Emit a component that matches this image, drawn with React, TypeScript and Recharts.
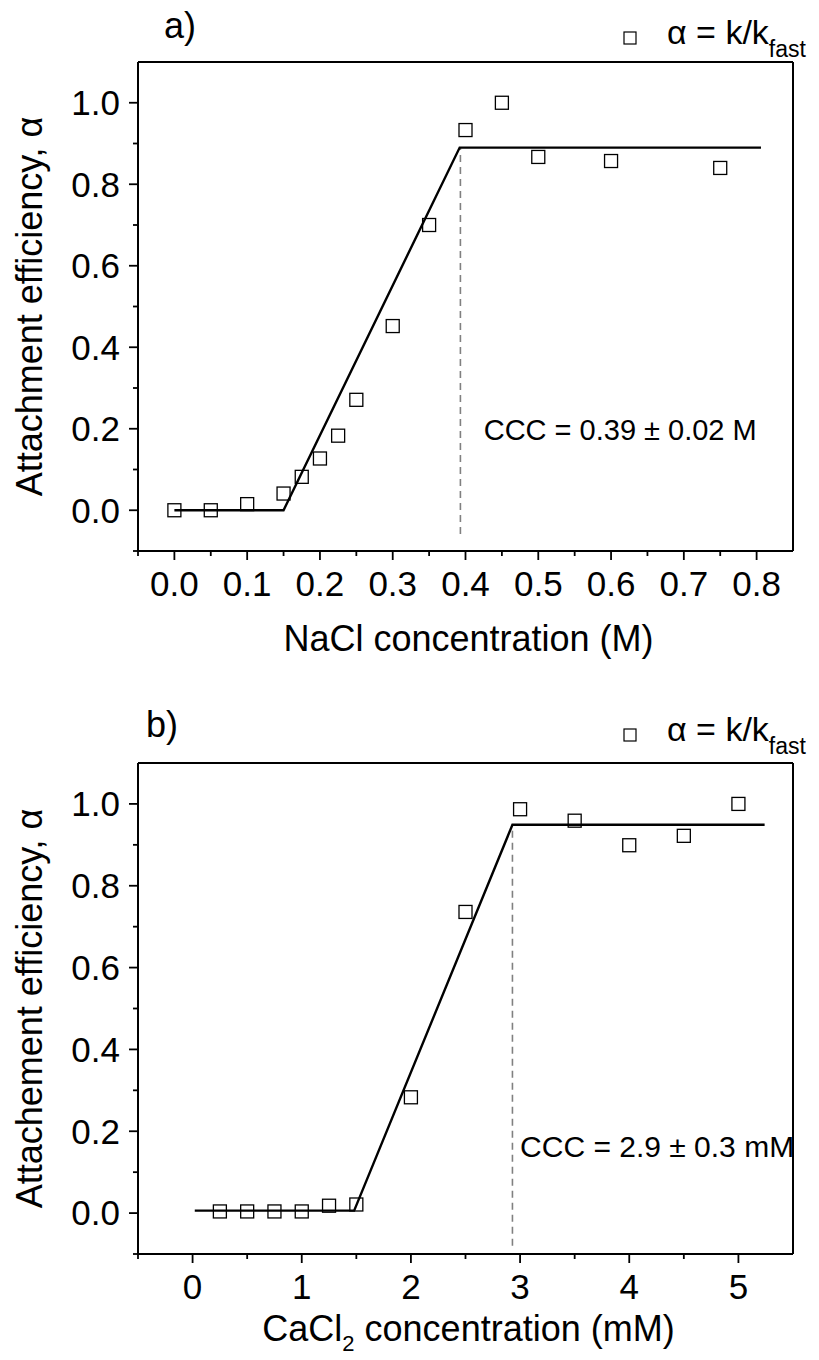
import React from 'react';
import { ComposedChart, Scatter, Line, XAxis, YAxis, ReferenceLine, ReferenceDot, Legend } from 'recharts';

const FONT = '"Liberation Sans", Arial, Helvetica, sans-serif';

// ---------- Panel a: NaCl ----------
const naclConc = [0, 0.05, 0.1, 0.15, 0.175, 0.2, 0.225, 0.25, 0.3, 0.35, 0.4, 0.45, 0.5, 0.6, 0.75];
const naclAlpha = [0.0, 0.0, 0.015, 0.041, 0.082, 0.127, 0.183, 0.271, 0.452, 0.70, 0.933, 1.0, 0.867, 0.857, 0.84];
const naclFitConc = [0, 0.15, 0.392, 0.806];
const naclFitAlpha = [0, 0, 0.89, 0.89];
const naclCcc = 0.393;
const naclCccSpan = [-0.058, 0.89];
const naclCccText = 'CCC = 0.39 ± 0.02 M';
const naclCccTextAt = [0.425, 0.197];
const naclXDomain = [-0.05, 0.85];
const naclXMajor = [0, 0.1, 0.2, 0.3, 0.4, 0.5, 0.6, 0.7, 0.8];
const naclXMinor = [-0.05, 0.05, 0.15, 0.25, 0.35, 0.45, 0.55, 0.65, 0.75];

// ---------- Panel b: CaCl2 ----------
const caclConc = [0.25, 0.5, 0.75, 1.0, 1.25, 1.5, 2.0, 2.5, 3.0, 3.5, 4.0, 4.5, 5.0];
const caclAlpha = [0.004, 0.004, 0.004, 0.004, 0.018, 0.021, 0.283, 0.736, 0.987, 0.959, 0.899, 0.922, 1.0];
const caclFitConc = [0.02, 1.48, 2.93, 5.24];
const caclFitAlpha = [0.006, 0.006, 0.949, 0.949];
const caclCcc = 2.93;
const caclCccSpan = [-0.08, 0.949];
const caclCccText = 'CCC = 2.9 ± 0.3 mM';
const caclCccTextAt = [3.0, 0.163];
const caclXDomain = [-0.5, 5.5];
const caclXMajor = [0, 1, 2, 3, 4, 5];
const caclXMinor = [-0.5, 0.5, 1.5, 2.5, 3.5, 4.5];

// ---------- shared y axis ----------
const alphaDomain = [-0.1, 1.1];
const alphaMajor = [0, 0.2, 0.4, 0.6, 0.8, 1.0];
const alphaMinor = [-0.1, 0.1, 0.3, 0.5, 0.7, 0.9];

const W = 819;
const H = 680;
const PLOT_LEFT = 138;
const PLOT_RIGHT = 793;
const TICK_FS = 35;

const isIn = (arr: number[], v: number) => arr.some((m) => Math.abs(m - v) < 1e-9);

const makeXTick = (majors: number[], fmt: (v: number) => string) => (props: any) => {
  const { x, y, payload } = props;
  const v = payload.value;
  const major = isIn(majors, v);
  return (
    <g>
      <line x1={x} y1={y} x2={x} y2={y + (major ? 9 : 5)} stroke="#000" strokeWidth={1.8} />
      {major && (
        <text x={x} y={y + 33} textAnchor="middle" dy="0.35em" fontSize={TICK_FS} fontFamily={FONT} fill="#000">
          {fmt(v)}
        </text>
      )}
    </g>
  );
};

const makeYTick = (majors: number[]) => (props: any) => {
  const { x, y, payload } = props;
  const v = payload.value;
  const major = isIn(majors, v);
  return (
    <g>
      <line x1={x} y1={y} x2={x - (major ? 9 : 5)} y2={y} stroke="#000" strokeWidth={1.8} />
      {major && (
        <text x={x - 18} y={y} textAnchor="end" dy="0.35em" fontSize={TICK_FS} fontFamily={FONT} fill="#000">
          {v.toFixed(1)}
        </text>
      )}
    </g>
  );
};

const squareShape = (props: any) => {
  const { cx, cy } = props;
  return <rect x={cx - 6.5} y={cy - 6.5} width={13} height={13} fill="none" stroke="#000" strokeWidth={1.3} />;
};

const LegendBox = ({ sq }: { sq: number }) => (
  <div style={{ position: 'relative', width: 204, height: 90, fontFamily: FONT, color: '#000' }}>
    <svg style={{ position: 'absolute', left: 8, top: sq - 7 }} width={15} height={15}>
      <rect x={1} y={1} width={12} height={12} fill="none" stroke="#000" strokeWidth={1.2} />
    </svg>
    <span style={{ position: 'absolute', left: 52, top: sq - 23, fontSize: 34, lineHeight: 1, whiteSpace: 'nowrap' }}>
      α = k/k
      <span style={{ fontSize: 23, position: 'relative', top: 13 }}>fast</span>
    </span>
  </div>
);

type PanelProps = {
  conc: number[];
  alpha: number[];
  fitConc: number[];
  fitAlpha: number[];
  ccc: number;
  cccSpan: number[];
  cccText: string;
  cccTextAt: number[];
  cccFs: number;
  xDomain: number[];
  xMajor: number[];
  xMinor: number[];
  xFmt: (v: number) => string;
  plotTop: number;
  plotBottom: number;
  titleOffset: number;
  letter: string;
  letterX: number;
  letterBaseline: number;
  yLabel: string;
  xTitle: React.ReactNode;
  legendSq: number;
  top: number;
};

const Panel = (p: PanelProps) => {
  const points = p.conc.map((c, i) => ({ x: c, y: p.alpha[i] }));
  const fit = p.fitConc.map((c, i) => ({ x: c, y: p.fitAlpha[i] }));
  const xTicks = [...p.xMajor, ...p.xMinor].sort((a, b) => a - b);
  const yTicks = [...alphaMajor, ...alphaMinor].sort((a, b) => a - b);
  const plotMidY = (p.plotTop + p.plotBottom) / 2;
  const plotMidX = (PLOT_LEFT + PLOT_RIGHT) / 2 + 3;
  return (
    <div style={{ position: 'absolute', left: 0, top: p.top, width: W, height: H }}>
      <ComposedChart
        width={W}
        height={H}
        margin={{ top: p.plotTop, right: W - PLOT_RIGHT, bottom: 0, left: 0 }}
      >
        <XAxis
          type="number"
          dataKey="x"
          domain={p.xDomain}
          allowDataOverflow
          ticks={xTicks}
          interval={0}
          height={H - p.plotBottom}
          tickSize={0}
          tickMargin={0}
          tickLine={false}
          axisLine={{ stroke: '#000', strokeWidth: 2 }}
          tick={makeXTick(p.xMajor, p.xFmt)}
          label={{
            content: () => (
              <text x={plotMidX} y={p.plotBottom + p.titleOffset} textAnchor="middle" dy="0.35em" fontSize={36} fontFamily={FONT} fill="#000">
                {p.xTitle}
              </text>
            ),
          }}
        />
        <YAxis
          type="number"
          dataKey="y"
          domain={alphaDomain}
          allowDataOverflow
          ticks={yTicks}
          interval={0}
          width={PLOT_LEFT}
          tickSize={0}
          tickMargin={0}
          tickLine={false}
          axisLine={{ stroke: '#000', strokeWidth: 2 }}
          tick={makeYTick(alphaMajor)}
          label={{
            content: () => (
              <g>
                <text
                  x={29}
                  y={plotMidY}
                  transform={`rotate(-90, 29, ${plotMidY})`}
                  textAnchor="middle"
                  dy="0.35em"
                  fontSize={36}
                  fontFamily={FONT}
                  fill="#000"
                >
                  {p.yLabel}
                </text>
                <text x={p.letterX} y={p.letterBaseline} fontSize={36} fontFamily={FONT} fill="#000">
                  {p.letter}
                </text>
              </g>
            ),
          }}
        />
        <ReferenceLine y={alphaDomain[1]} stroke="#000" strokeWidth={2} ifOverflow="visible" />
        <ReferenceLine x={p.xDomain[1]} stroke="#000" strokeWidth={2} ifOverflow="visible" />
        <ReferenceLine
          segment={[
            { x: p.ccc, y: p.cccSpan[0] },
            { x: p.ccc, y: p.cccSpan[1] },
          ]}
          stroke="#808080"
          strokeWidth={1.6}
          strokeDasharray="7 5"
          ifOverflow="visible"
        />
        <Line
          data={fit}
          dataKey="y"
          type="linear"
          stroke="#000"
          strokeWidth={2.4}
          dot={false}
          activeDot={false}
          isAnimationActive={false}
          legendType="none"
        />
        <Scatter data={points} dataKey="y" shape={squareShape} isAnimationActive={false} name="α = k/k_fast" />
        <ReferenceDot
          x={p.cccTextAt[0]}
          y={p.cccTextAt[1]}
          r={0}
          fill="none"
          stroke="none"
          label={{
            content: (lp: any) => {
              const vb = lp.viewBox || {};
              const x = (vb.x ?? 0) + (vb.width ?? 0) / 2;
              const y = (vb.y ?? 0) + (vb.height ?? 0) / 2;
              return (
                <text x={x} y={y} dy="0.35em" fontSize={p.cccFs} fontFamily={FONT} fill="#000">
                  {p.cccText}
                </text>
              );
            },
          }}
        />
        <Legend
          layout="horizontal"
          verticalAlign="middle"
          align="center"
          wrapperStyle={{ position: 'absolute', left: 615, top: 0, width: 204, height: 90 }}
          content={() => <LegendBox sq={p.legendSq} />}
        />
      </ComposedChart>
    </div>
  );
};

export default function App() {
  return (
    <div style={{ position: 'absolute', left: 0, top: 0, width: W, height: 1360, background: '#fff', fontFamily: FONT }}>
      <Panel
        conc={naclConc}
        alpha={naclAlpha}
        fitConc={naclFitConc}
        fitAlpha={naclFitAlpha}
        ccc={naclCcc}
        cccSpan={naclCccSpan}
        cccText={naclCccText}
        cccTextAt={naclCccTextAt}
        cccFs={29}
        xDomain={naclXDomain}
        xMajor={naclXMajor}
        xMinor={naclXMinor}
        xFmt={(v) => v.toFixed(1)}
        plotTop={62}
        plotBottom={551}
        titleOffset={87}
        letter="a)"
        letterX={164}
        letterBaseline={38}
        yLabel="Attachment efficiency, α"
        xTitle="NaCl concentration (M)"
        legendSq={38}
        top={0}
      />
      <Panel
        conc={caclConc}
        alpha={caclAlpha}
        fitConc={caclFitConc}
        fitAlpha={caclFitAlpha}
        ccc={caclCcc}
        cccSpan={caclCccSpan}
        cccText={caclCccText}
        cccTextAt={caclCccTextAt}
        cccFs={30}
        xDomain={caclXDomain}
        xMajor={caclXMajor}
        xMinor={caclXMinor}
        xFmt={(v) => String(v)}
        plotTop={83}
        plotBottom={574}
        titleOffset={74}
        letter="b)"
        letterX={146}
        letterBaseline={57}
        yLabel="Attachement efficiency, α"
        xTitle={
          <>
            <tspan>CaCl</tspan>
            <tspan dy={10} fontSize={22}>2</tspan>
            <tspan dy={-10}> concentration (mM)</tspan>
          </>
        }
        legendSq={55}
        top={680}
      />
    </div>
  );
}
